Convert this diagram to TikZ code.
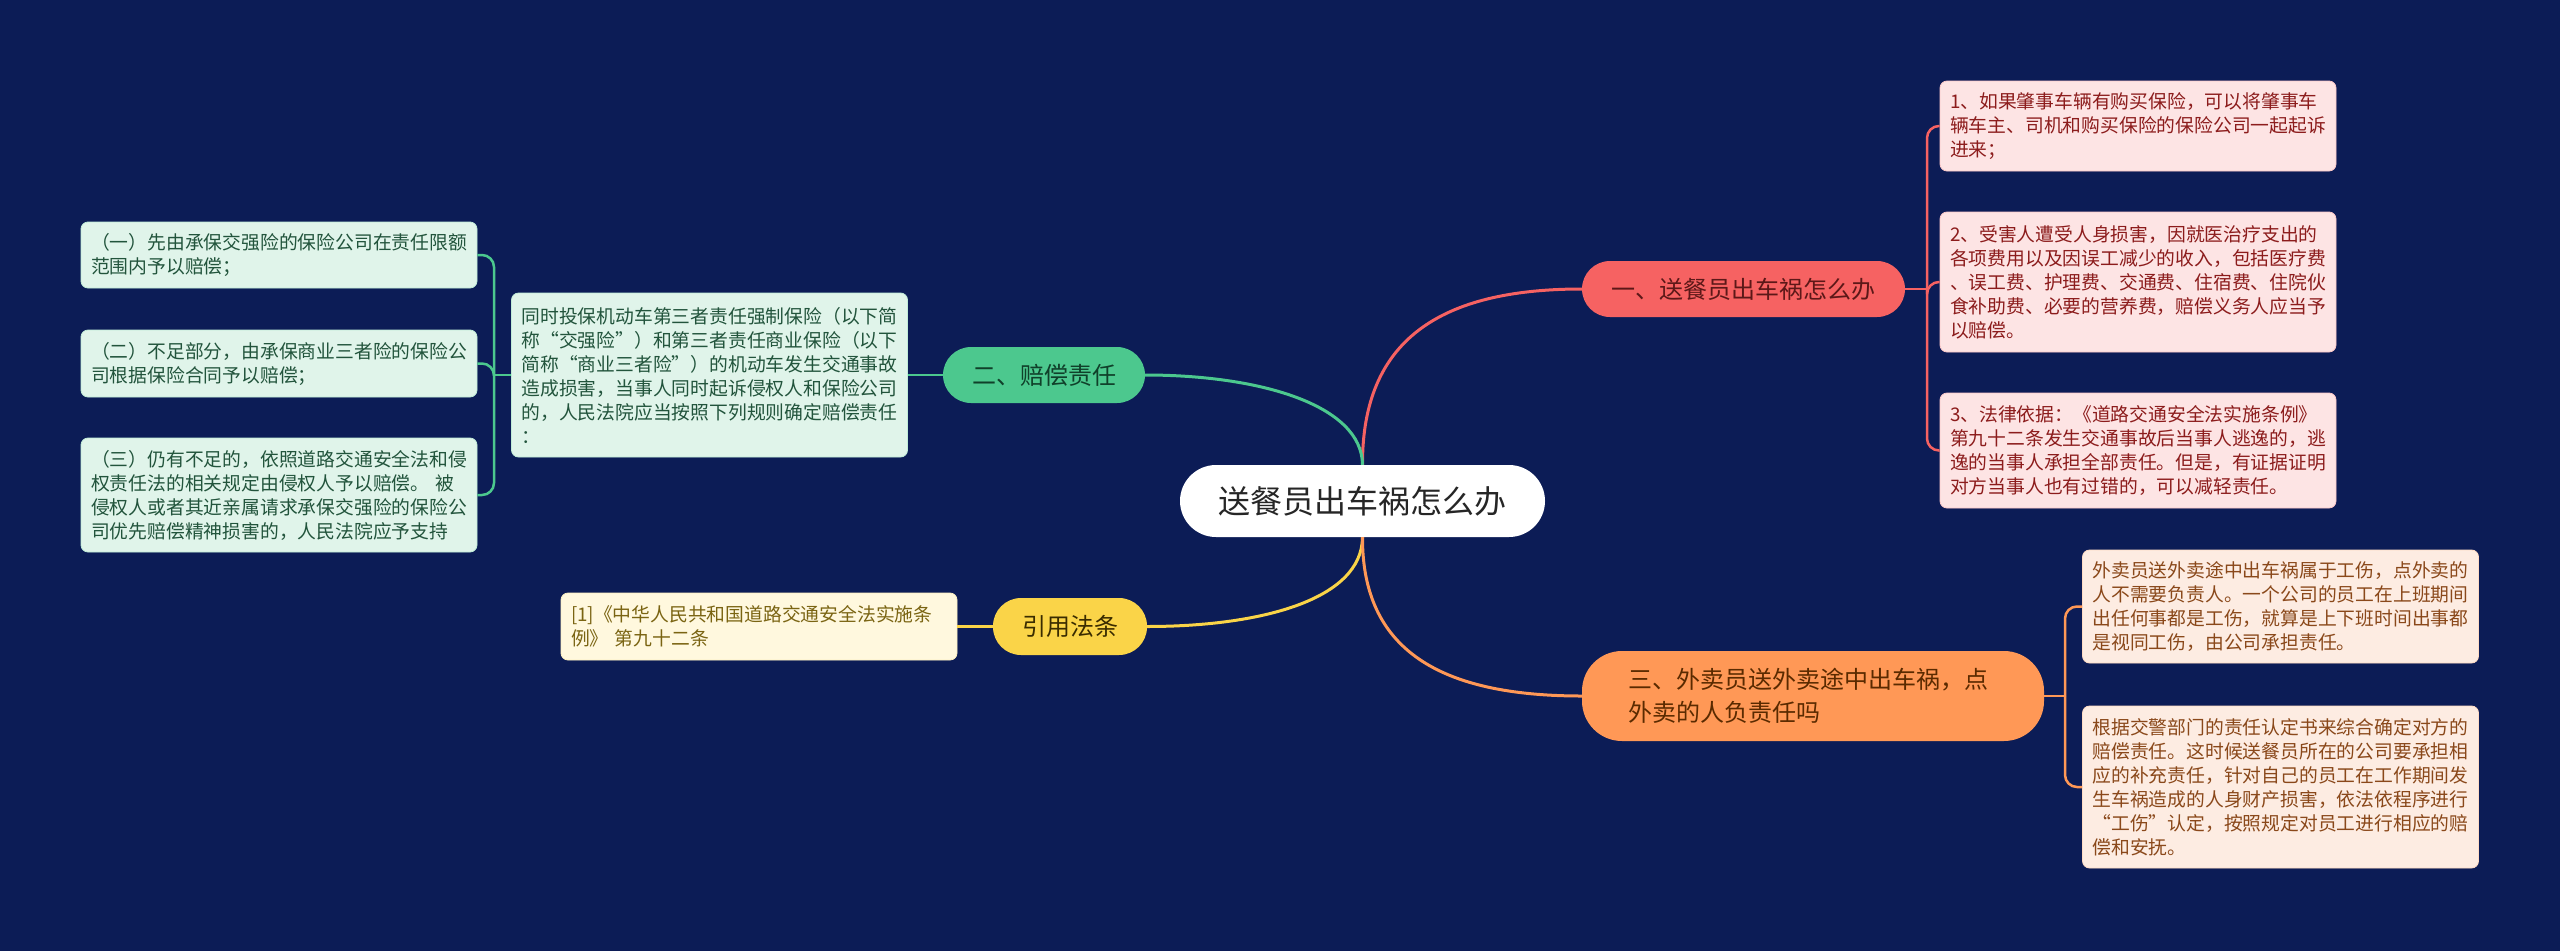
\documentclass[tikz,border=0pt]{standalone}
\usepackage{fontspec}
\setmainfont{Noto Sans CJK SC}
\definecolor{bg}{RGB}{12,28,86}
\definecolor{cred}{RGB}{246,98,98}
\definecolor{cgreen}{RGB}{76,200,142}
\definecolor{cyellow}{RGB}{250,212,72}
\definecolor{corange}{RGB}{255,152,86}
\definecolor{lpink}{RGB}{253,228,228}
\definecolor{lmint}{RGB}{224,244,234}
\definecolor{lcream}{RGB}{255,248,222}
\definecolor{lpeach}{RGB}{253,236,226}
\definecolor{tpink}{RGB}{140,28,28}
\definecolor{tmint}{RGB}{34,84,60}
\definecolor{tcream}{RGB}{122,100,18}
\definecolor{tpeach}{RGB}{138,72,26}
\tikzset{
  rootbox/.style={fill=white, rounded corners=36pt, minimum width=365pt, minimum height=72pt, inner sep=0pt, text=black!85, font=\fontsize{32}{38}\selectfont},
  branchbox/.style={rounded corners=28pt, minimum height=56pt, inner sep=0pt, font=\fontsize{24}{33}\selectfont},
  leafbox/.style={rounded corners=7pt, line width=0.8pt, inner xsep=10pt, inner ysep=0pt, text width=376pt, align=left, font=\fontsize{18.8}{24}\selectfont},
  mainlink/.style={line width=3pt},
  sublink/.style={line width=2.5pt, rounded corners=12pt}
}
\begin{document}
\begin{tikzpicture}[x=1pt,y=-1pt]
\fill[bg] (0,0) rectangle (2560,951);
\useasboundingbox (0,0) rectangle (2560,951);

% root
\node[rootbox] (root) at (1362.5,501) {送餐员出车祸怎么办};

% branches
\node[branchbox, fill=cred, text={rgb,255:red,92;green,24;blue,24}, minimum width=323pt] (b1) at (1743.5,289) {一、送餐员出车祸怎么办};
\node[branchbox, fill=cgreen, text={rgb,255:red,16;green,64;blue,42}, minimum width=202pt] (b2) at (1044,375) {二、赔偿责任};
\node[branchbox, fill=cyellow, text={rgb,255:red,58;green,44;blue,0}, minimum width=154pt, minimum height=57pt] (b4) at (1070,626.5) {引用法条};
\node[branchbox, fill=corange, rounded corners=40pt, text={rgb,255:red,90;green,42;blue,0}, minimum width=462pt, minimum height=90pt, text width=370pt, align=left] (b3) at (1813,696) {三、外卖员送外卖途中出车祸，点\\外卖的人负责任吗};

% branch 1 leaves
\node[leafbox, fill=lpink, draw=cred!35, text=tpink, minimum height=90pt] (l1a) at (2138,126) {1、如果肇事车辆有购买保险，可以将肇事车\\辆车主、司机和购买保险的保险公司一起起诉\\进来；};
\node[leafbox, fill=lpink, draw=cred!35, text=tpink, minimum height=140pt] (l1b) at (2138,282) {2、受害人遭受人身损害，因就医治疗支出的\\各项费用以及因误工减少的收入，包括医疗费\\、误工费、护理费、交通费、住宿费、住院伙\\食补助费、必要的营养费，赔偿义务人应当予\\以赔偿。};
\node[leafbox, fill=lpink, draw=cred!35, text=tpink, minimum height=115pt] (l1c) at (2138,450.5) {3、法律依据：《道路交通安全法实施条例》\\第九十二条发生交通事故后当事人逃逸的，逃\\逸的当事人承担全部责任。但是，有证据证明\\对方当事人也有过错的，可以减轻责任。};

% branch 3 leaves
\node[leafbox, fill=lpeach, draw=corange!35, text=tpeach, minimum height=113pt] (l3a) at (2280.5,606.5) {外卖员送外卖途中出车祸属于工伤，点外卖的\\人不需要负责人。一个公司的员工在上班期间\\出任何事都是工伤，就算是上下班时间出事都\\是视同工伤，由公司承担责任。};
\node[leafbox, fill=lpeach, draw=corange!35, text=tpeach, minimum height=162pt] (l3b) at (2280.5,787) {根据交警部门的责任认定书来综合确定对方的\\赔偿责任。这时候送餐员所在的公司要承担相\\应的补充责任，针对自己的员工在工作期间发\\生车祸造成的人身财产损害，依法依程序进行\\“工伤”认定，按照规定对员工进行相应的赔\\偿和安抚。};

% branch 2 children
\node[leafbox, fill=lmint, draw=cgreen!35, text=tmint, minimum height=164pt] (m2) at (709.5,375) {同时投保机动车第三者责任强制保险（以下简\\称“交强险”）和第三者责任商业保险（以下\\简称“商业三者险”）的机动车发生交通事故\\造成损害，当事人同时起诉侵权人和保险公司\\的，人民法院应当按照下列规则确定赔偿责任\\：};
\node[leafbox, fill=lmint, draw=cgreen!35, text=tmint, minimum height=66pt] (l2a) at (279,255) {（一）先由承保交强险的保险公司在责任限额\\范围内予以赔偿；};
\node[leafbox, fill=lmint, draw=cgreen!35, text=tmint, minimum height=67pt] (l2b) at (279,363.5) {（二）不足部分，由承保商业三者险的保险公\\司根据保险合同予以赔偿；};
\node[leafbox, fill=lmint, draw=cgreen!35, text=tmint, minimum height=114pt] (l2c) at (279,495) {（三）仍有不足的，依照道路交通安全法和侵\\权责任法的相关规定由侵权人予以赔偿。~被\\侵权人或者其近亲属请求承保交强险的保险公\\司优先赔偿精神损害的，人民法院应予支持};

% citation leaf
\node[leafbox, fill=lcream, draw=cyellow!35, text=tcream, minimum height=67pt] (c1) at (759,626.5) {[1]《中华人民共和国道路交通安全法实施条\\例》~第九十二条};

% main links
\draw[mainlink, cred] (root.north) .. controls (1362,340) and (1440,289) .. (b1.west);
\draw[mainlink, cgreen] (root.north) .. controls (1362,405) and (1260,375) .. (b2.east);
\draw[mainlink, cyellow] (root.south) .. controls (1362,600) and (1260,626.5) .. (b4.east);
\draw[mainlink, corange] (root.south) .. controls (1362,650) and (1440,696) .. (b3.west);

% sub links branch 1
\coordinate (j1) at (1927,289);
\draw[sublink, cred] (b1.east) -- (j1);
\draw[sublink, cred] (j1) |- (l1a.west);
\draw[sublink, cred] (j1) |- (l1b.west);
\draw[sublink, cred] (j1) |- (l1c.west);

% sub links branch 3
\coordinate (j3) at (2065,696);
\draw[sublink, corange] (b3.east) -- (j3);
\draw[sublink, corange] (j3) |- (l3a.west);
\draw[sublink, corange] (j3) |- (l3b.west);

% sub links branch 2
\draw[sublink, cgreen] (b2.west) -- (m2.east);
\coordinate (j2) at (494,375);
\draw[sublink, cgreen] (m2.west) -- (j2);
\draw[sublink, cgreen] (j2) |- (l2a.east);
\draw[sublink, cgreen] (j2) |- (l2b.east);
\draw[sublink, cgreen] (j2) |- (l2c.east);

% citation link
\draw[sublink, cyellow] (b4.west) -- (c1.east);
\end{tikzpicture}
\end{document}
